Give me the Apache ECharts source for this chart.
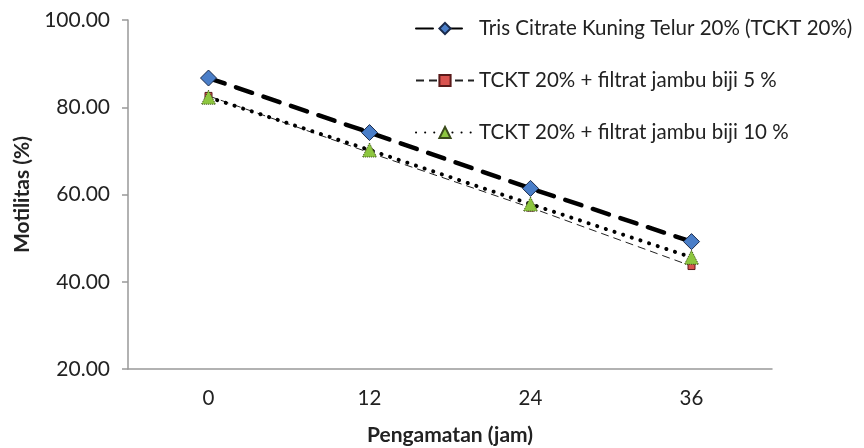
<!DOCTYPE html>
<html><head><meta charset="utf-8">
<script src="https://cdn.jsdelivr.net/npm/echarts@6/dist/echarts.min.js"></script>
<style>html,body{margin:0;padding:0;background:#fff}#c{width:864px;height:448px}</style>
</head><body><div id="c"></div>
<script>
const categories = ['0', '12', '24', '36'];
const seriesNames = ['Tris Citrate Kuning Telur 20% (TCKT 20%)', 'TCKT 20% + filtrat jambu biji 5 %', 'TCKT 20% + filtrat jambu biji 10 %'];
const tckt = [86.7, 74.2, 61.4, 49.2];
const jambu5 = [82.6, 69.6, 57.0, 43.6];
const jambu10 = [82.3, 70.2, 57.8, 45.6];
const yTicks = [20, 40, 60, 80, 100];

const font = 'Lato, "Open Sans", sans-serif';
const chart = echarts.init(document.getElementById('c'), null, {renderer: 'canvas'});
chart.setOption({
  animation: false,
  backgroundColor: '#fff',
  grid: {left: 128, right: 92, top: 20, bottom: 79, containLabel: false, outerBoundsMode: 'none'},
  legend: {
    orient: 'vertical', left: 410, top: 13, itemWidth: 58, itemHeight: 14, itemGap: 31,
    textStyle: {fontFamily: font, fontSize: 20.5, color: '#222'},
    data: seriesNames
  },
  xAxis: {
    type: 'category', data: categories, boundaryGap: true,
    name: 'Pengamatan (jam)', nameLocation: 'middle', nameGap: 56,
    nameTextStyle: {fontFamily: font, fontSize: 21, fontWeight: 'bold', color: '#222'},
    axisLine: {lineStyle: {color: '#999', width: 1.5}},
    axisTick: {show: false},
    axisLabel: {fontFamily: font, fontSize: 20.5, color: '#222', margin: 19}
  },
  yAxis: {
    type: 'value', min: yTicks[0], max: yTicks[yTicks.length - 1], interval: 20,
    name: 'Motilitas (%)', nameLocation: 'middle', nameGap: 95, nameRotate: 90,
    nameTextStyle: {fontFamily: font, fontSize: 21, fontWeight: 'bold', color: '#222'},
    axisLine: {show: true, lineStyle: {color: '#999', width: 1.5}},
    axisTick: {show: true, length: 6, lineStyle: {color: '#999', width: 1.5}},
    splitLine: {show: false},
    axisLabel: {fontFamily: font, fontSize: 21, color: '#222', margin: 18, formatter: v => v.toFixed(2)}
  },
  series: [
    {
      name: seriesNames[2], type: 'line', data: jambu10, z: 3,
      symbol: 'triangle', symbolSize: 14,
      lineStyle: {color: '#000', width: 4, type: [0.1, 9], cap: 'round'},
      itemStyle: {color: '#8dc63f', borderColor: '#3a4a1a', borderWidth: 1, borderType: 'dotted'}
    },
    {
      name: seriesNames[1], type: 'line', data: jambu5, z: 2,
      symbol: 'rect', symbolSize: 7,
      lineStyle: {color: '#222', width: 1, type: [8, 5]},
      itemStyle: {color: '#d9534f', borderColor: '#5a1a1a', borderWidth: 1}
    },
    {
      name: seriesNames[0], type: 'line', data: tckt, z: 4,
      symbol: 'diamond', symbolSize: 16,
      lineStyle: {color: '#000', width: 4.5, type: [17, 12], cap: 'round'},
      itemStyle: {color: '#4a7ec8', borderColor: '#1a2a4a', borderWidth: 1}
    }
  ]
});
</script></body></html>
